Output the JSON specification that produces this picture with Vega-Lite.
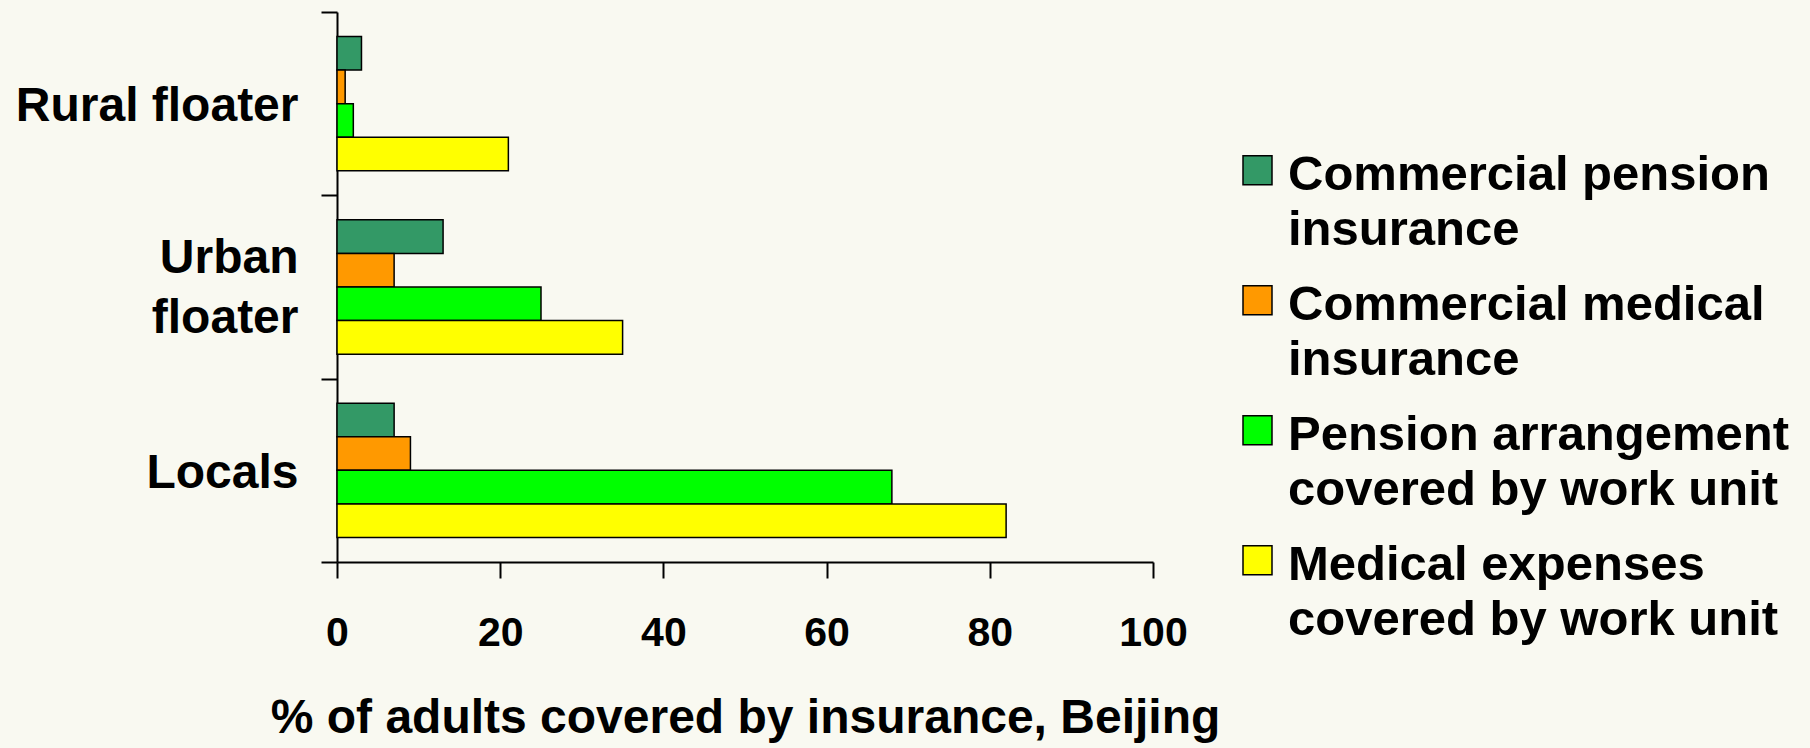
{
  "$schema": "https://vega.github.io/schema/vega-lite/v6.json",
  "width": 816,
  "height": 550,
  "autosize": {"type": "none"},
  "padding": {"left": 337, "top": 12, "right": 657, "bottom": 186},
  "background": "#f9f9f1",
  "config": {
    "view": {"stroke": null},
    "font": "Liberation Sans",
    "style": {"guide-label": {"lineHeight": 55}}
  },
  "data": {
    "values": [
      {"group": "Rural floater", "type": "Commercial pension insurance", "pct": 3},
      {"group": "Rural floater", "type": "Commercial medical insurance", "pct": 1},
      {"group": "Rural floater", "type": "Pension arrangement covered by work unit", "pct": 2},
      {"group": "Rural floater", "type": "Medical expenses covered by work unit", "pct": 21},
      {"group": "Urban floater", "type": "Commercial pension insurance", "pct": 13},
      {"group": "Urban floater", "type": "Commercial medical insurance", "pct": 7},
      {"group": "Urban floater", "type": "Pension arrangement covered by work unit", "pct": 25},
      {"group": "Urban floater", "type": "Medical expenses covered by work unit", "pct": 35},
      {"group": "Locals", "type": "Commercial pension insurance", "pct": 7},
      {"group": "Locals", "type": "Commercial medical insurance", "pct": 9},
      {"group": "Locals", "type": "Pension arrangement covered by work unit", "pct": 68},
      {"group": "Locals", "type": "Medical expenses covered by work unit", "pct": 82}
    ]
  },
  "mark": {"type": "bar", "stroke": "black", "strokeWidth": 1.5},
  "encoding": {
    "y": {
      "field": "group",
      "type": "nominal",
      "sort": ["Rural floater", "Urban floater", "Locals"],
      "scale": {"paddingInner": 0, "paddingOuter": 0},
      "axis": {
        "title": null,
        "tickBand": "extent",
        "tickSize": 16,
        "tickColor": "black",
        "tickWidth": 2,
        "domainColor": "black",
        "domainWidth": 2,
        "labelFontSize": 48,
        "labelFontWeight": "bold",
        "labelColor": "black",
        "labelPadding": 23,
        "labelLimit": 500,
        "labelLineHeight": 60,
        "labelOffset": {"condition": {"test": "datum.value == 'Urban floater'", "value": -29}, "value": 3},
        "labelExpr": "datum.value == 'Urban floater' ? ['Urban', 'floater'] : datum.value"
      }
    },
    "x": {
      "field": "pct",
      "type": "quantitative",
      "scale": {"domain": [0, 100]},
      "axis": {
        "values": [0, 20, 40, 60, 80, 100],
        "grid": false,
        "tickSize": 16,
        "tickColor": "black",
        "tickWidth": 2,
        "domainColor": "black",
        "domainWidth": 2,
        "labelFontSize": 41,
        "labelFontWeight": "bold",
        "labelColor": "black",
        "labelPadding": 35,
        "labelFlush": false,
        "title": "% of adults covered by insurance, Beijing",
        "titleFontSize": 48,
        "titleFontWeight": "bold",
        "titleColor": "black",
        "titlePadding": 41
      }
    },
    "yOffset": {
      "field": "type",
      "sort": ["Commercial pension insurance", "Commercial medical insurance", "Pension arrangement covered by work unit", "Medical expenses covered by work unit"],
      "scale": {"paddingInner": 0, "paddingOuter": 0.73}
    },
    "color": {
      "field": "type",
      "type": "nominal",
      "sort": ["Commercial pension insurance", "Commercial medical insurance", "Pension arrangement covered by work unit", "Medical expenses covered by work unit"],
      "scale": {
        "domain": ["Commercial pension insurance", "Commercial medical insurance", "Pension arrangement covered by work unit", "Medical expenses covered by work unit"],
        "range": ["#339966", "#ff9900", "#00ff00", "#ffff00"]
      },
      "legend": {
        "title": null,
        "orient": "none",
        "legendX": 896,
        "legendY": 114,
        "symbolType": "M-1,0.36H1V2.36H-1Z",
        "symbolSize": 841,
        "symbolStrokeColor": "black",
        "symbolStrokeWidth": 1.5,
        "symbolOpacity": 1,
        "labelFontSize": 49,
        "labelFontWeight": "bold",
        "labelColor": "black",
        "labelLimit": 600,
        "labelOffset": 6,
        "labelBaseline": "top",
        "rowPadding": 1,
        "labelExpr": "datum.label == 'Commercial pension insurance' ? ['Commercial pension', 'insurance'] : datum.label == 'Commercial medical insurance' ? ['Commercial medical', 'insurance'] : datum.label == 'Pension arrangement covered by work unit' ? ['Pension arrangement', 'covered by work unit'] : ['Medical expenses', 'covered by work unit']"
      }
    }
  }
}
